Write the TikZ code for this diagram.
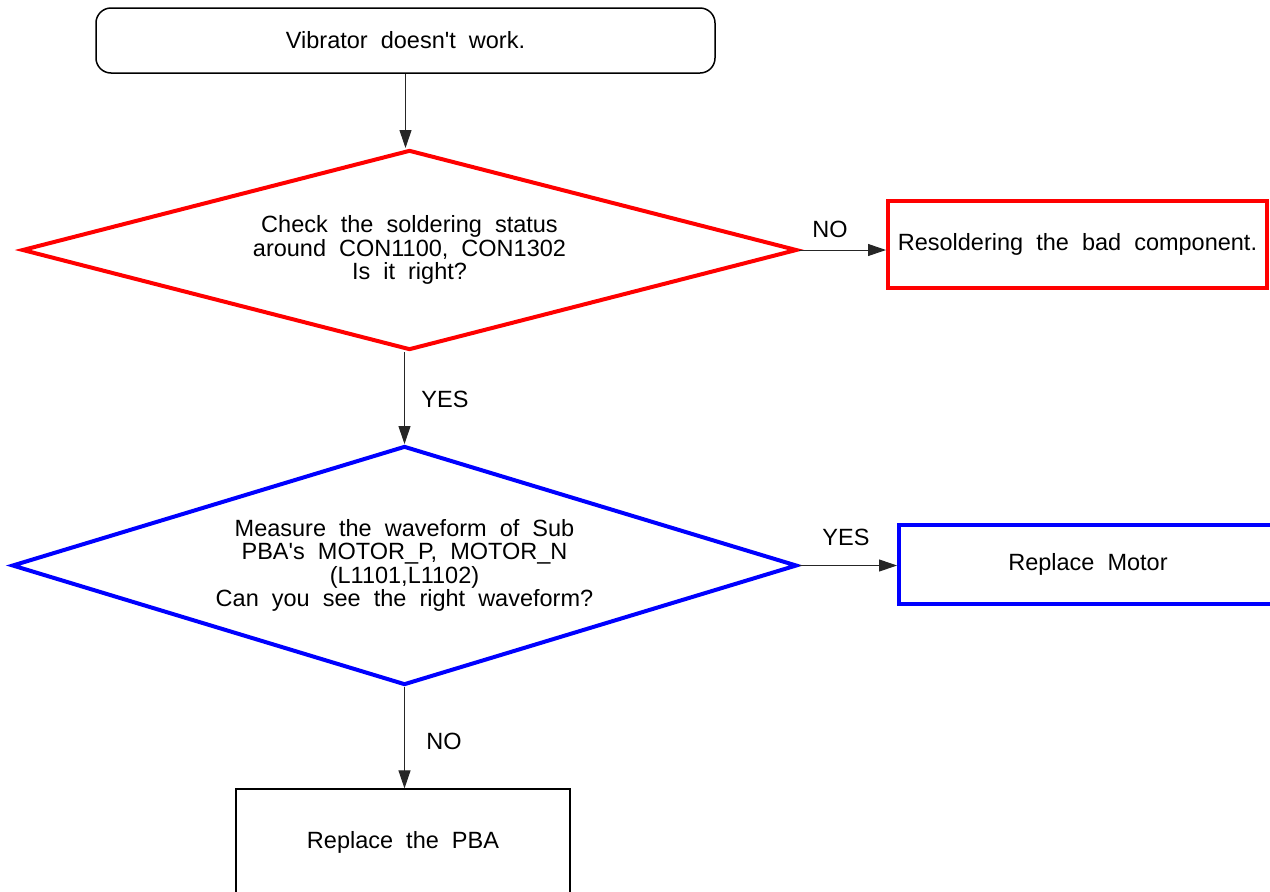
\documentclass[tikz,border=0pt]{standalone}
\usepackage{fontspec}
\setmainfont{Liberation Sans}
\usetikzlibrary{shapes.geometric,arrows.meta}
\protected\def\widewordsp{\spaceskip=0.556em\relax}
\begin{document}
\begin{tikzpicture}[x=1pt,y=-1pt,
  txt/.style={font=\fontsize{23.5}{23.6}\selectfont\widewordsp, align=center, inner sep=0pt},
  startbox/.style={txt, draw=black, line width=1.5pt, rounded corners=15pt, minimum width=619pt, minimum height=65pt},
  plainbox/.style={txt, draw=black, line width=1.2pt, minimum width=334pt, minimum height=106pt},
  redbox/.style={txt, draw=red, line width=4pt, minimum width=379pt, minimum height=87pt},
  bluebox/.style={txt, draw=blue, line width=4pt, minimum width=378pt, minimum height=79pt},
  reddia/.style={txt, shape=diamond, draw=red, line width=4pt, minimum width=775pt, minimum height=200pt, aspect=3.875},
  bluedia/.style={txt, shape=diamond, draw=blue, line width=4pt, minimum width=785pt, minimum height=239pt, aspect=3.28},
  conn/.style={draw=black!85, line width=1pt, -{Triangle[length=18pt,width=12pt]}},
  lbl/.style={txt}
]
\useasboundingbox (0,0) rectangle (1270,892);
\clip (0,0) rectangle (1270,892);
\fill[white] (0,0) rectangle (1270,892);

\node[startbox] (start) at (405.5,40.5) {Vibrator doesn\textquotesingle t work.};
\node[reddia] (d1) at (409.5,250) {Check the soldering status\\around CON1100, CON1302\\Is it right?};
\node[redbox] (resolder) at (1077.5,244.5) {Resoldering the bad component.};
\node[bluedia] (d2) at (404.5,565.5) {Measure the waveform of Sub\\PBA\textquotesingle s MOTOR\_P, MOTOR\_N\\(L1101,L1102)\\Can you see the right waveform?};
\node[bluebox] (motor) at (1088,564.5) {Replace Motor};
\node[plainbox] (pba) at (403,842) {Replace the PBA};

\coordinate (a1s) at (start.south);
\coordinate (a2s) at (d2.north |- d1.south);
\draw[conn] (a1s) -- (a1s |- d1.north);
\draw[conn] (d1.east) -- (d1.east -| resolder.west);
\draw[conn] (a2s) -- (d2.north);
\draw[conn] (d2.east) -- (d2.east -| motor.west);
\draw[conn] (d2.south) -- (d2.south |- pba.north);

\node[lbl] (lno1) at (830,229) {NO};
\node[lbl] (lyes1) at (445,399) {YES};
\node[lbl] (lyes2) at (846,537) {YES};
\node[lbl] (lno2) at (444,741) {NO};
\end{tikzpicture}
\end{document}
